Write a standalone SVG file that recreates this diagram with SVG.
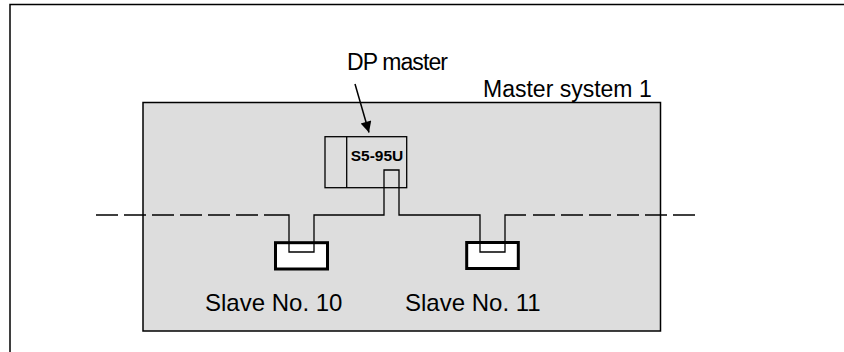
<svg xmlns="http://www.w3.org/2000/svg" width="844" height="352" viewBox="0 0 844 352">
<style>
.t{font-family:"Liberation Sans",Arial,sans-serif;font-size:23px;fill:#000}
.s{font-family:"Liberation Sans",Arial,sans-serif;font-size:24px;fill:#000}
.b{font-family:"Liberation Sans",Arial,sans-serif;font-size:15.5px;font-weight:bold;fill:#000}
.ln{fill:none;stroke:#000;stroke-width:1.3}
.slave{fill:#fff;stroke:#000;stroke-width:3}
</style>
<defs>
<marker id="ah" viewBox="0 0 10 10" refX="10" refY="5" markerWidth="18" markerHeight="11" markerUnits="userSpaceOnUse" orient="auto">
<path d="M0,0 L10,5 L0,10 z" fill="#000"/>
</marker>
</defs>
<rect x="0" y="0" width="844" height="352" fill="#fff"/>
<path d="M10,352 V4.5 H844" fill="none" stroke="#000" stroke-width="1.5"/>
<g id="master-system">
<rect x="143" y="102.5" width="517.5" height="228.5" fill="#dddddd" stroke="#000" stroke-width="1.5"/>
<text class="t" x="483" y="97">Master system 1</text>
</g>
<g id="dp-master">
<rect x="325" y="136.7" width="81.7" height="51" fill="#dddddd" stroke="#000" stroke-width="1.3"/>
<line x1="346.7" y1="136.7" x2="346.7" y2="187.7" stroke="#000" stroke-width="1.3"/>
<text class="b" x="377" y="160.5" text-anchor="middle">S5-95U</text>
<text class="t" x="347" y="70" textLength="101">DP master</text>
</g>
<g id="slave10">
<rect class="slave" x="275.5" y="242.7" width="52" height="26.3"/>
<text class="s" x="205" y="311">Slave No. 10</text>
</g>
<g id="slave11">
<rect class="slave" x="466.7" y="242.5" width="51.6" height="26"/>
<text class="s" x="405" y="311">Slave No. 11</text>
</g>
<g id="connectors">
<line x1="96" y1="215" x2="267" y2="215" stroke="#000" stroke-width="1.3" stroke-dasharray="22,6"/>
<line x1="533" y1="215" x2="698" y2="215" stroke="#000" stroke-width="1.3" stroke-dasharray="22,6"/>
<path class="ln" d="M267,215 H289 V252 H314 V215 H384 V170 H399 V215 H480 V252 H505 V215 H526"/>
<line x1="355" y1="84" x2="369" y2="132.5" stroke="#000" stroke-width="1.5" marker-end="url(#ah)"/>
</g>
</svg>
